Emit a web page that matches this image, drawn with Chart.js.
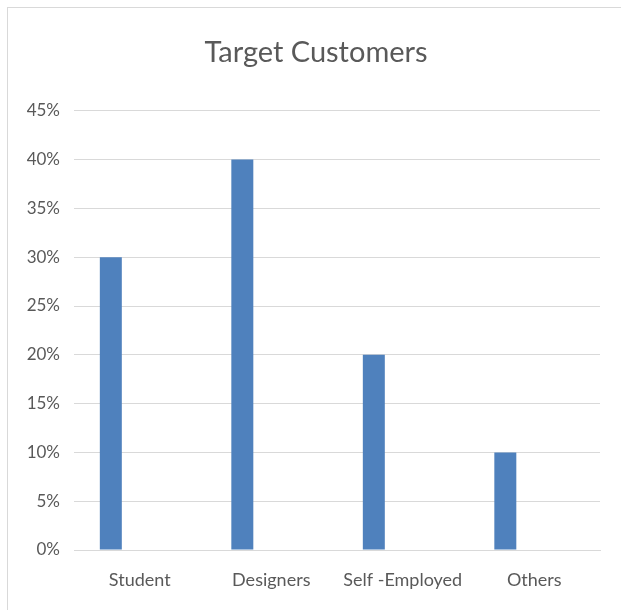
<!DOCTYPE html>
<html>
<head>
<meta charset="utf-8">
<script src="https://cdn.jsdelivr.net/npm/chart.js@4"></script>
<style>
  html, body { margin: 0; padding: 0; background: #fff; }
  #frame {
    position: absolute; left: 7px; top: 7px; width: 614px; height: 603px;
    border-top: 1px solid #d9d9d9; border-left: 1px solid #d9d9d9;
  }
  #wrap { position: absolute; left: 0; top: 0; width: 621px; height: 610px; }
</style>
</head>
<body>
<div id="frame"></div>
<div id="wrap"><canvas id="chart"></canvas></div>
<script>
const categories = ['Student', 'Designers', 'Self -Employed', 'Others'];
const shares = [30, 40, 20, 10];
const emptySeries = [null, null, null, null];

function createBarChart(canvasId) {
  const data = {
    labels: categories,
    datasets: [
      { label: 'Share', data: shares, backgroundColor: '#4f81bd', barPercentage: 0.38, categoryPercentage: 0.88 },
      { label: 'Blank', data: emptySeries, backgroundColor: '#c0504d', barPercentage: 0.38, categoryPercentage: 0.88 }
    ]
  };

  const config = {
    type: 'bar',
    data: data,
    options: {
      responsive: true,
      maintainAspectRatio: false,
      animation: false,
      layout: { padding: { top: 14, right: 0, left: 11, bottom: 0 } },
      plugins: {
        legend: { display: false },
        tooltip: { enabled: false },
        title: {
          display: true,
          text: 'Target Customers',
          color: '#595959',
          font: { family: 'Lato', size: 29, weight: 'normal' },
          padding: { top: 21, bottom: 41 }
        }
      },
      scales: {
        y: {
          min: 0,
          max: 45,
          ticks: {
            stepSize: 5,
            color: '#595959',
            font: { family: 'Lato', size: 17 },
            padding: 14,
            callback: v => v + '%'
          },
          grid: { color: '#d9d9d9', drawTicks: false },
          border: { display: false },
          afterFit: s => { s.width = 63; }
        },
        // empty right-hand spacer so the plot ends where the reference does
        yRight: {
          position: 'right',
          min: 0,
          max: 45,
          ticks: { display: false },
          grid: { display: false, drawTicks: false },
          border: { display: false },
          afterFit: s => { s.width = 21; }
        },
        x: {
          ticks: {
            color: '#595959',
            font: { family: 'Lato', size: 18 },
            padding: 19
          },
          grid: { display: false, drawTicks: false },
          border: { display: true, color: '#d9d9d9' },
          afterFit: s => { s.height = 60; }
        }
      }
    }
  };

  return new Chart(document.getElementById(canvasId), config);
}

createBarChart('chart');
</script>
</body>
</html>
